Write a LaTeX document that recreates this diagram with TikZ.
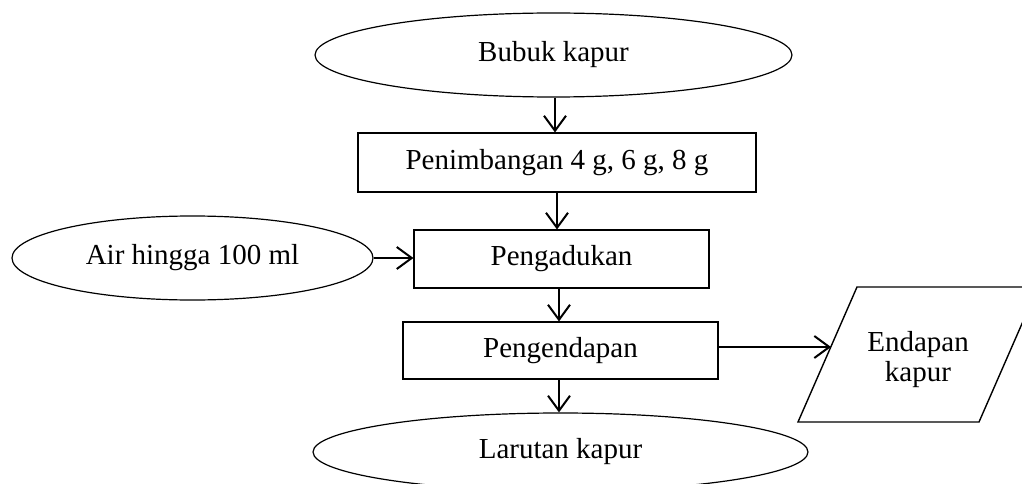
\documentclass[tikz,border=0pt]{standalone}
\usepackage{fontspec}
\setmainfont{Liberation Serif}
\usetikzlibrary{shapes.geometric,arrows.meta,calc}
\begin{document}
\begin{tikzpicture}[x=1pt,y=-1pt,
  every node/.style={font=\fontsize{29}{30}\selectfont},
  oval/.style={draw, ellipse, line width=1.2pt, inner sep=0pt},
  proc/.style={draw, rectangle, line width=1.1pt, inner sep=0pt},
  flow/.style={line width=2pt, -{Straight Barb[length=15pt,width=22pt,line width=2pt]}}
]
\useasboundingbox (0,0) rectangle (1022,484);
\clip (0,0) rectangle (1022,484);

\node[oval, minimum width=477pt, minimum height=84pt] (bubuk) at (553.5,55) {Bubuk kapur};
\node[proc, minimum width=398pt, minimum height=59pt] (timbang) at (557,162.5) {Penimbangan 4 g, 6 g, 8 g};
\node[oval, minimum width=361pt, minimum height=84pt] (air) at (192.5,258) {Air hingga 100 ml};
\node[proc, minimum width=295pt, minimum height=58pt] (aduk) at (561.5,259) {Pengadukan};
\node[proc, minimum width=315pt, minimum height=57pt] (endap) at (560.5,350.5) {Pengendapan};
\node[oval, minimum width=495pt, minimum height=78pt] (larutan) at (560.5,452) {Larutan kapur};

% parallelogram (data)
\coordinate (p1) at (857,287);
\coordinate (p2) at (1038,287);
\coordinate (p3) at (979,422);
\coordinate (p4) at (798,422);
\draw[line width=1.4pt] (p1) -- (p2) -- (p3) -- (p4) -- cycle;
\node[align=center] (endapan) at (918,360) {Endapan\\kapur};
\coordinate (pin) at (831,347);

\draw[flow] (bubuk.south -| 555,0) -- (timbang.north -| 555,0);
\draw[flow] (timbang.south -| 557,0) -- (aduk.north -| 557,0);
\draw[flow] (air.east) -- (aduk.west |- air.east);
\draw[flow] (aduk.south -| 559,0) -- (endap.north -| 559,0);
\draw[flow] (endap.east |- pin) -- (pin);
\draw[flow] (endap.south -| 559,0) -- (larutan.north -| 559,0);
\end{tikzpicture}
\end{document}
